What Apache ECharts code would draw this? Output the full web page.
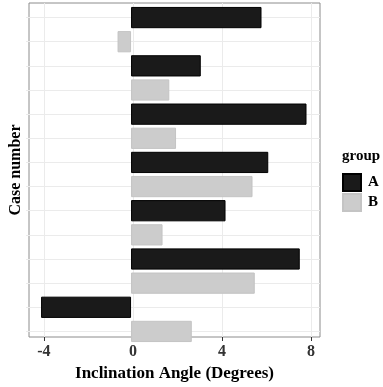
<!DOCTYPE html>
<html>
<head>
<meta charset="utf-8">
<script src="https://cdn.jsdelivr.net/npm/echarts@6/dist/echarts.min.js"></script>
<style>
  html, body { margin: 0; padding: 0; background: #fff; }
  #main { width: 383px; height: 387px; }
</style>
</head>
<body>
<div id="main"></div>
<script>
    var cases = ['1', '2', '3', '4', '5', '6', '7'];
    var groupA = [5.8, 3.1, 7.8, 6.1, 4.2, 7.5, -4.0];
    var groupB = [-0.6, 1.7, 2.0, 5.4, 1.4, 5.5, 2.7];
    var xTicks = [-4, 0, 4, 8];

    // one row per case and group, A above B
    var rows = [];
    var dataA = [];
    var dataB = [];
    cases.forEach(function (c, i) {
        rows.push(c + 'A', c + 'B');
        dataA.push(groupA[i], null);
        dataB.push(null, groupB[i]);
    });

    var serif = 'Liberation Serif';
    var myChart = echarts.init(document.getElementById('main'));

    var option = {
        backgroundColor: '#fff',
        animation: false,
        title: {
            text: 'group',
            left: 337,
            top: 144,
            textStyle: { fontFamily: serif, fontWeight: 'bold', fontSize: 15, color: '#000' }
        },
        legend: {
            data: ['A', 'B'],
            orient: 'vertical',
            left: 337,
            top: 168,
            itemWidth: 18,
            itemHeight: 17,
            itemGap: 1,
            icon: 'rect',
            textStyle: { fontFamily: serif, fontWeight: 'bold', fontSize: 15, color: '#000', padding: [0, 0, 0, 2] }
        },
        grid: [
            { left: 26, right: 63, top: 5.5, bottom: 43.5 },
            { left: 26, right: 63, top: 3, bottom: 41, show: true, borderColor: '#8c8c8c', borderWidth: 1, backgroundColor: 'transparent' }
        ],
        xAxis: [{
            gridIndex: 0,
            type: 'value',
            min: -4.67,
            max: 8.4,
            show: false
        }, {
            gridIndex: 1,
            type: 'value',
            min: -4.67,
            max: 8.4,
            splitNumber: 6,
            name: 'Inclination Angle (Degrees)',
            nameLocation: 'middle',
            nameGap: 28,
            nameTextStyle: { fontFamily: serif, fontWeight: 'bold', fontSize: 17, color: '#000' },
            axisLine: { show: false },
            axisTick: { show: true, length: 4, customValues: xTicks, lineStyle: { color: '#333' } },
            axisLabel: {
                customValues: xTicks,
                margin: 7,
                fontFamily: serif,
                fontWeight: 'bold',
                fontSize: 16,
                color: '#333'
            },
            splitLine: { lineStyle: { color: '#ebebeb', width: 1 } }
        }],
        yAxis: [{
            gridIndex: 0,
            type: 'category',
            data: rows,
            inverse: true,
            axisLine: { show: false },
            axisTick: { show: false },
            axisLabel: { show: false },
            splitLine: { show: true, alignWithLabel: true, lineStyle: { color: '#ebebeb', width: 1 } }
        }, {
            gridIndex: 1,
            type: 'value',
            name: 'Case number',
            nameLocation: 'middle',
            nameRotate: 90,
            nameGap: 5,
            nameTextStyle: { fontFamily: serif, fontWeight: 'bold', fontSize: 16, color: '#000' },
            axisLine: { show: false },
            axisTick: { show: false },
            axisLabel: { show: false },
            splitLine: { show: false }
        }],
        series: [{
            name: 'A',
            type: 'bar',
            stack: 'all',
            xAxisIndex: 0,
            yAxisIndex: 0,
            data: dataA,
            barWidth: '88%',
            itemStyle: { color: '#1a1a1a', borderColor: '#000', borderWidth: 1 }
        }, {
            name: 'B',
            type: 'bar',
            stack: 'all',
            xAxisIndex: 0,
            yAxisIndex: 0,
            data: dataB,
            barWidth: '88%',
            itemStyle: { color: '#cccccc', borderColor: '#c4c4c4', borderWidth: 1 }
        }]
    };
    myChart.setOption(option);
</script>
</body>
</html>
